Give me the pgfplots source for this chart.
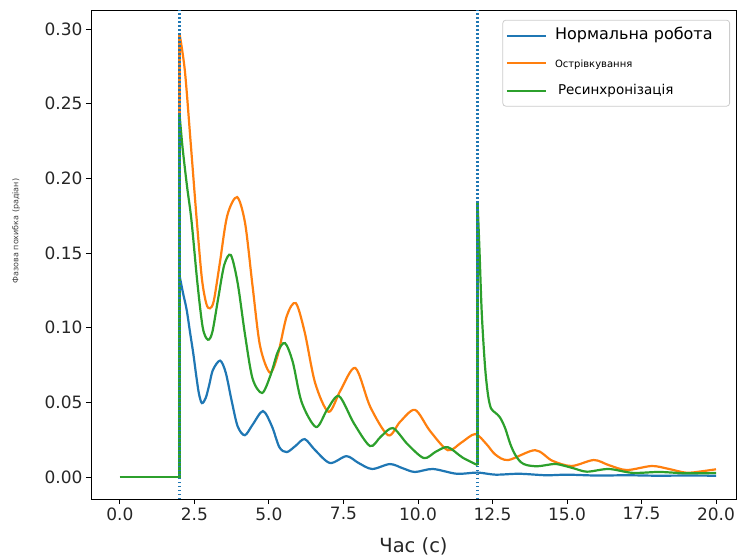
\documentclass[border=0pt]{standalone}
\usepackage{fontspec}
\setmainfont{DejaVu Sans}
\usepackage{pgfplots}
\pgfplotsset{compat=1.18}
\definecolor{c0}{HTML}{1F77B4}
\definecolor{c1}{HTML}{FF7F0E}
\definecolor{c2}{HTML}{2CA02C}
\begin{document}
\begin{tikzpicture}
\begin{axis}[
  scale only axis, width=645bp, height=489bp,
  xmin=-0.97, xmax=20.67, ymin=-0.0147, ymax=0.3128,
  xtick={0,2.5,5,7.5,10,12.5,15,17.5,20},
  ytick={0,0.05,0.1,0.15,0.2,0.25,0.3},
  xticklabel style={/pgf/number format/.cd, fixed, fixed zerofill, precision=1},
  yticklabel style={/pgf/number format/.cd, fixed, fixed zerofill, precision=2},
  /pgf/number format/assume math mode=true,
  tick label style={font=\fontsize{17bp}{20bp}\selectfont, text=black!85},
  axis line style={black, line width=0.9bp},
  tick style={black, line width=0.9bp},
  tick align=outside, major tick length=5bp,
  xtick pos=left, ytick pos=left,
  xlabel={Час (с)},
  every axis x label/.style={at={(axis description cs:0.5,0)}, anchor=base, yshift=-53bp, font=\fontsize{19.5bp}{22bp}\selectfont, text=black!85},
  ylabel={Фазова похибка (радіан)},
  every axis y label/.style={at={(axis description cs:-0.1163,0.548)}, rotate=90, anchor=center, font=\fontsize{8bp}{9bp}\selectfont, text=black!75},
  legend style={at={(axis description cs:0.9907,0.98)}, anchor=north east,
    draw=black!20, line width=0.8bp, rounded corners=3bp, fill=white,
    fill opacity=0.8, text opacity=1, draw opacity=1,
    inner xsep=3bp, inner ysep=6.5bp, row sep=9.5bp,
    nodes={text height=11bp, text depth=3bp, inner sep=2bp},
    cells={anchor=west}},
  legend image code/.code={\draw[#1] (0bp,0bp) -- (39bp,0bp);},
  every axis plot/.append style={line width=2.2bp},
]
% Нормальна робота
\addplot[c0, forget plot] coordinates {(0,0) (2,0) (2,0.135)};
\addplot[c0, smooth] coordinates {
(2.00,0.135) (2.12,0.123) (2.24,0.112) (2.36,0.096) (2.46,0.083) (2.56,0.068)
(2.65,0.056) (2.75,0.0495) (2.88,0.053) (3.00,0.062) (3.12,0.0717) (3.36,0.078)
(3.55,0.070) (3.75,0.051) (3.95,0.034) (4.19,0.028) (4.45,0.035) (4.80,0.0442)
(5.10,0.034) (5.35,0.020) (5.60,0.0167) (5.90,0.021) (6.20,0.0254) (6.55,0.018)
(7.05,0.0094) (7.60,0.014) (8.00,0.0095) (8.46,0.0054) (9.06,0.0087) (9.50,0.0058)
(9.90,0.0034) (10.50,0.0054) (11.30,0.0022) (12.00,0.0030) (12.60,0.0016)
(13.40,0.0022) (14.30,0.0012) (15.00,0.0016) (16.00,0.0010) (17.00,0.0012)
(18.00,0.0009) (19.00,0.0010) (20.00,0.0009)};
\addlegendentry{\fontsize{16bp}{18bp}\selectfont\kern6bp Нормальна робота\kern12bp\relax}
% Острівкування
\addplot[c1, forget plot] coordinates {(0,0) (2,0) (2,0.297)};
\addplot[c1, smooth] coordinates {
(2.00,0.297) (2.18,0.272) (2.37,0.225) (2.57,0.174) (2.75,0.133) (2.90,0.116)
(3.02,0.113) (3.15,0.118) (3.35,0.143) (3.60,0.175) (3.93,0.1875) (4.20,0.170)
(4.45,0.128) (4.70,0.088) (5.03,0.070) (5.30,0.082) (5.60,0.108) (5.90,0.1165)
(6.20,0.097) (6.55,0.063) (7.00,0.0437) (7.40,0.058) (7.90,0.073) (8.40,0.047)
(9.00,0.028) (9.40,0.037) (9.90,0.045) (10.40,0.031) (11.00,0.018) (11.45,0.023)
(11.92,0.0288) (12.30,0.022) (12.60,0.015) (13.03,0.0114) (13.93,0.018)
(14.50,0.011) (15.15,0.0074) (15.90,0.0114) (16.40,0.008) (17.00,0.0047)
(17.84,0.0074) (18.40,0.0055) (19.00,0.0029) (19.50,0.0038) (20.00,0.0052)};
\addlegendentry{\fontsize{10bp}{12bp}\selectfont\kern6bp Острівкування}
% Ресинхронізація
\addplot[c2, forget plot] coordinates {(0,0) (2,0) (2,0.243)};
\addplot[c2, smooth] coordinates {
(2.00,0.243) (2.10,0.221) (2.25,0.195) (2.40,0.172) (2.60,0.130) (2.78,0.100)
(2.95,0.092) (3.10,0.097) (3.30,0.120) (3.50,0.142) (3.72,0.1487) (3.95,0.130)
(4.20,0.095) (4.45,0.066) (4.77,0.0563) (5.05,0.068) (5.30,0.084) (5.54,0.0897)
(5.80,0.077) (6.10,0.050) (6.58,0.0335) (6.95,0.045) (7.35,0.0542) (7.85,0.036)
(8.39,0.0208) (8.75,0.027) (9.16,0.0328) (9.65,0.022) (10.20,0.0127) (10.60,0.017)
(11.00,0.020) (11.50,0.013) (12.00,0.008)};
\addlegendentry{\fontsize{13.5bp}{15bp}\selectfont\kern9bp Ресинхронізація}
\addplot[c2, forget plot] coordinates {(12,0.008) (12,0.1835)};
\addplot[c2, smooth, forget plot] coordinates {
(12.00,0.1835) (12.06,0.154) (12.14,0.110) (12.25,0.074) (12.35,0.055) (12.45,0.046)
(12.60,0.043) (12.75,0.040) (12.92,0.033) (13.10,0.022) (13.26,0.015) (13.45,0.010)
(13.65,0.008) (14.00,0.0072) (14.30,0.0080) (14.65,0.0087) (15.20,0.006)
(15.67,0.0036) (16.40,0.0054) (17.20,0.0028) (18.10,0.0034) (19.00,0.0025)
(20.00,0.0027)};
% vertical markers
\addplot[color=c0, dash pattern=on 1.5bp off 2.5bp, forget plot] coordinates {(2,-0.0147) (2,0.3128)};
\addplot[color=c0, dash pattern=on 1.5bp off 2.5bp, forget plot] coordinates {(12,-0.0147) (12,0.3128)};
\end{axis}
\pgfresetboundingbox
\useasboundingbox (-91bp,-58bp) rectangle (648bp,499bp);
\end{tikzpicture}
\end{document}
